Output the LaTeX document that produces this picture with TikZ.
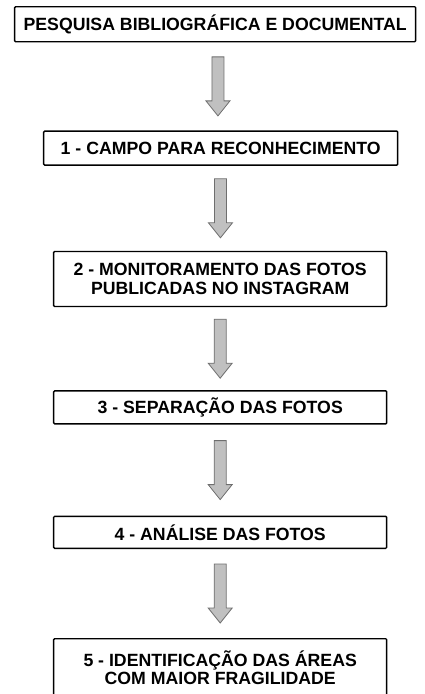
\documentclass[tikz,border=0pt]{standalone}
\usepackage{fontspec}
\setmainfont{Liberation Sans}
\usepackage{tikz}
\usetikzlibrary{matrix,calc}

\definecolor{arrowfill}{RGB}{192,192,192}
\definecolor{arrowline}{RGB}{110,110,110}

\tikzset{
    stagebox/.style={draw, line width=1.4pt, rounded corners=1pt, align=center, inner sep=0pt,
        minimum width=333pt, font=\bfseries\fontsize{17.7}{18.5}\selectfont},
    blockarrow/.style={draw=arrowline, fill=arrowfill, line width=0.8pt,
        to path={let \p1=($(\tikztostart.south)!.5!(\tikztotarget.north)$) in
            (\x1-6pt,\y1+29.5pt) -- (\x1+6pt,\y1+29.5pt) -- (\x1+6pt,\y1-14.5pt)
            -- (\x1+12pt,\y1-14.5pt) -- (\x1,\y1-29.5pt) -- (\x1-12pt,\y1-14.5pt)
            -- (\x1-6pt,\y1-14.5pt) -- cycle}}
}

\begin{document}
\begin{tikzpicture}
    \matrix(flow)[row sep=0pt, inner sep=0pt, nodes={stagebox}]{
        \node[minimum width=401pt, minimum height=35pt, xshift=-5pt] (pesq) {PESQUISA BIBLIOGRÁFICA E DOCUMENTAL}; \\[88pt]
        \node[minimum width=354pt, minimum height=34pt, xshift=.5pt] (campo) {1 - CAMPO PARA RECONHECIMENTO}; \\[85pt]
        \node[minimum height=55pt] (monit) {2 - MONITORAMENTO DAS FOTOS\\PUBLICADAS NO INSTAGRAM}; \\[83pt]
        \node[minimum height=33pt] (separ) {3 - SEPARAÇÃO DAS FOTOS}; \\[91pt]
        \node[minimum height=32pt] (anali) {4 - ANÁLISE DAS FOTOS}; \\[89pt]
        \node[minimum height=58pt] (ident) {5 - IDENTIFICAÇÃO DAS ÁREAS\\COM MAIOR FRAGILIDADE}; \\
    };
    \draw[blockarrow] (pesq) to (campo);
    \draw[blockarrow] (campo) to (monit);
    \draw[blockarrow] (monit) to (separ);
    \draw[blockarrow] (separ) to (anali);
    \draw[blockarrow] (anali) to (ident);
    % keep the frame of the original figure
    \pgfresetboundingbox
    \useasboundingbox ($(pesq.north west)+(-14pt,6pt)$) rectangle +(425pt,-694pt);
\end{tikzpicture}
\end{document}
